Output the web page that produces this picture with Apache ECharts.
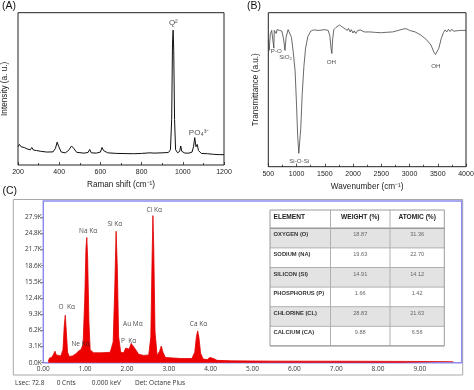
<!DOCTYPE html>
<html><head><meta charset="utf-8">
<script src="https://cdn.jsdelivr.net/npm/echarts@6/dist/echarts.min.js"></script>
<style>html,body{margin:0;padding:0;background:#fff}#c{width:474px;height:390px}</style>
</head><body><div id="c"></div>
<script>
// ---------- Panel A: Raman ----------
const ramanShift = [200,207,215,230,245,260,267,275,290,297,310,340,370,382,390,398,410,430,445,460,470,485,520,540,548,556,580,600,608,615,622,635,680,720,760,800,840,860,900,930,940,946,950,953,956,960,965,975,985,990,995,1010,1030,1045,1052,1058,1064,1070,1076,1090,1120,1150,1180,1200];
const ramanIntensity = [12.0,13.5,12.0,11.5,10.5,10.0,11.5,9.8,9.5,10.5,9.0,8.5,8.6,11.0,15.0,12.0,8.5,8.0,9.5,12.5,11.0,8.3,7.8,8.2,10.2,8.0,7.8,8.5,11.5,9.5,10.2,8.0,7.6,7.5,7.4,7.6,8.0,7.8,8.0,8.2,10,30,80,88.5,75,30,10,8.0,9.0,12.5,9.0,7.8,7.8,8.5,12,18.0,12,13.5,9.5,7.6,7.4,7.0,6.8,6.8];
const ramanLabelText = ['Q²','PO₄³⁻'];
const ramanLabelX = [954,1079];
const ramanLabelY = [93.4,21.2];

// ---------- Panel B: FTIR ----------
const ftirWavenumber = [500,515,535,560,585,598,606,625,640,655,700,740,770,795,815,850,880,910,940,975,1000,1020,1040,1055,1075,1100,1130,1160,1200,1250,1300,1400,1500,1560,1590,1610,1625,1640,1660,1700,1760,1800,1830,1860,1880,1900,1920,1950,1970,2000,2020,2050,2080,2100,2130,2150,2200,2300,2400,2500,2600,2700,2800,2900,2950,3000,3100,3200,3300,3380,3430,3460,3490,3520,3560,3600,3630,3660,3690,3720,3750,3780,3800,3850,3900,4000];
const ftirTransmittance = [82,75.5,86,88.5,88.5,77,88.5,89,86.5,89,88.5,88,83,75.5,84,89.0,88.5,84,75,62,40,20,8.7,9,25,47,65,77,84.5,88,88.8,88.5,89,88.5,85,77,73.5,83,89,90.5,92,91,90.5,89.5,90.5,88.5,89.8,87.5,89,86.8,88.2,86.5,88.4,87.2,88.8,88.0,87.5,87.5,87.2,87,87.3,87.5,88.5,89.5,89.5,88.5,87.5,85.5,82.5,79,74.5,72.8,73.5,77,83,87,88.8,87.5,89.2,87.8,89.3,88.0,88.8,88.3,88.5,88.5];
const ftirLabelText = ['P-O','SiO₂','OH','OH','Si-O-Si'];
const ftirLabelX = [642,805,1615,3466,1047];
const ftirLabelY = [75,71.3,68,65.2,3.3];

// ---------- Panel C: EDS ----------
const edsEnergy = [0.12,0.15,0.20,0.25,0.28,0.31,0.35,0.42,0.47,0.50,0.525,0.55,0.58,0.62,0.70,0.78,0.85,0.90,0.95,0.99,1.02,1.04,1.06,1.09,1.12,1.20,1.40,1.60,1.67,1.71,1.74,1.77,1.80,1.85,1.92,1.97,2.01,2.05,2.10,2.14,2.20,2.28,2.40,2.52,2.57,2.60,2.62,2.64,2.67,2.72,2.78,2.82,2.86,2.92,3.10,3.30,3.55,3.62,3.66,3.69,3.72,3.76,3.82,3.92,3.98,4.02,4.07,4.15,4.50,5.50,7.00,8.50,9.80];
const edsCountsK = [0.3,0.9,1.0,1.7,2.2,1.5,1.2,1.3,2.5,7.0,9.1,6.0,2.0,1.2,1.3,1.7,2.3,2.5,3.5,12,22,24.0,20,8,2.5,1.9,1.9,2.0,4,15,25.2,18,5,2.0,1.9,2.8,3.0,2.6,3.7,3.8,2.6,1.6,1.4,1.5,5,20,28.2,22,6,1.4,2.2,3.2,2.0,1.0,0.9,0.8,0.8,2.0,5.0,6.1,4.8,1.8,0.7,0.6,1.0,1.15,0.8,0.45,0.35,0.3,0.28,0.25,0.2];
const edsLabelText = ['O  Kα','Ne Kα','Na Kα','Si Kα','Cl Kα','Au Mα','P  Kα','Ca Kα'];
const edsLabelX = [0.56,0.89,1.07,1.71,2.65,2.14,2.04,3.71];
const edsLabelY = [10.7,3.5,25.3,26.5,29.3,7.35,4.2,7.35];
const edsStatus = ['Lsec: 72.8','0 Cnts','0.000 keV','Det: Octane Plus'];

// ---------- Table ----------
const tableHeader = ['ELEMENT','WEIGHT (%)','ATOMIC (%)'];
const tableElements = ['OXYGEN (O)','SODIUM (NA)','SILICON (SI)','PHOSPHORUS (P)','CHLORINE (CL)','CALCIUM (CA)'];
const tableWeight = ['18.87','19.63','14.91','1.66','28.83','9.88'];
const tableAtomic = ['31.36','22.70','14.12','1.42','21.63','6.56'];

const zip = (a,b) => a.map((v,i)=>[v,b[i]]);
const zip3 = (a,b,c) => a.map((v,i)=>[v,b[i],c[i]]);

const SANS = 'Liberation Sans';
const EDSF = 'Open Sans';

function sciX(idx, min, max, interval, name, gap){
  return {gridIndex: idx, type:'value', min, max, interval,
    axisLine:{show:false}, splitLine:{show:false},
    axisTick:{show:true, inside:true, length:3, lineStyle:{color:'#222', width:0.8}},
    minorTick:{show:true, splitNumber:2, length:2, lineStyle:{color:'#222', width:0.8}},
    axisLabel:{fontSize:7, color:'#222', fontFamily:SANS, margin:4, formatter:v=>String(v)},
    name, nameLocation:'middle', nameGap:gap,
    nameTextStyle:{fontSize:8.2, color:'#222', fontFamily:SANS}};
}
function sciY(idx, name, gap){
  return {gridIndex: idx, type:'value', min:0, max:100,
    axisLine:{show:false}, axisTick:{show:false}, axisLabel:{show:false}, splitLine:{show:false},
    name, nameLocation:'middle', nameGap:gap, nameRotate:90,
    nameTextStyle:{fontSize:8.2, color:'#222', fontFamily:SANS}};
}
function labelSeries(xi, data, font, size){
  return {type:'scatter', xAxisIndex:xi, yAxisIndex:xi, data, symbolSize:1,
    itemStyle:{color:'rgba(0,0,0,0)'}, silent:true, z:5,
    label:{show:true, position:'inside', formatter:p=>p.data[2], fontSize:size, color:'#222', fontFamily:font}};
}

// table layout
const T = {cols:[270,330.5,390,444.3], top:210, headH:18.3, rowH:19.6};
const tableGfx = [];
const tW = T.cols[3]-T.cols[0];
const bodyTop = T.top + T.headH;
tableGfx.push({type:'rect', shape:{x:T.cols[0], y:T.top, width:tW, height:T.headH}, style:{fill:'#fff'}});
tableElements.forEach((el,i)=>{
  const y = bodyTop + i*T.rowH;
  tableGfx.push({type:'rect', shape:{x:T.cols[0], y, width:tW, height:T.rowH}, style:{fill: i%2===0 ? '#e3e3e3' : '#ffffff'}});
});
for (let i=1;i<=tableElements.length;i++){
  const y = bodyTop + i*T.rowH;
  tableGfx.push({type:'line', shape:{x1:T.cols[0], y1:y, x2:T.cols[3], y2:y}, style:{stroke:'#b0b0b0', lineWidth:1}});
}
tableGfx.push({type:'line', shape:{x1:T.cols[0], y1:bodyTop, x2:T.cols[3], y2:bodyTop}, style:{stroke:'#9a9a9a', lineWidth:1.6}});
[1,2].forEach(c=>tableGfx.push({type:'line', shape:{x1:T.cols[c], y1:T.top, x2:T.cols[c], y2:bodyTop+tableElements.length*T.rowH}, style:{stroke:'#b0b0b0', lineWidth:1}}));
tableGfx.push({type:'rect', shape:{x:T.cols[0], y:T.top, width:tW, height:T.headH+tableElements.length*T.rowH}, style:{fill:null, stroke:'#9a9a9a', lineWidth:1}});
const cx1 = (T.cols[1]+T.cols[2])/2, cx2 = (T.cols[2]+T.cols[3])/2;
tableGfx.push({type:'text', x:T.cols[0]+3.5, y:T.top+6.7, style:{text:tableHeader[0], fontSize:6.6, fontWeight:'bold', fill:'#222', fontFamily:SANS, verticalAlign:'middle'}});
tableGfx.push({type:'text', x:cx1, y:T.top+6.7, style:{text:tableHeader[1], fontSize:6.6, fontWeight:'bold', fill:'#222', fontFamily:SANS, align:'center', verticalAlign:'middle'}});
tableGfx.push({type:'text', x:cx2, y:T.top+6.7, style:{text:tableHeader[2], fontSize:6.6, fontWeight:'bold', fill:'#222', fontFamily:SANS, align:'center', verticalAlign:'middle'}});
tableElements.forEach((el,i)=>{
  const y = bodyTop + i*T.rowH + 6.5;
  tableGfx.push({type:'text', x:T.cols[0]+3.5, y, style:{text:el, fontSize:5.8, fontWeight:'bold', fill:'#333', fontFamily:SANS, verticalAlign:'middle'}});
  tableGfx.push({type:'text', x:cx1, y, style:{text:tableWeight[i], fontSize:5.6, fill:'#666', fontFamily:SANS, align:'center', verticalAlign:'middle'}});
  tableGfx.push({type:'text', x:cx2, y, style:{text:tableAtomic[i], fontSize:5.6, fill:'#666', fontFamily:SANS, align:'center', verticalAlign:'middle'}});
});

const statusX = [15,56.7,91.7,135];
const statusGfx = edsStatus.map((s,i)=>({type:'text', x:statusX[i], y:383.3, style:{text:s, fontSize:6.5, fill:'#333', fontFamily:EDSF, verticalAlign:'middle'}}));

const chart = echarts.init(document.getElementById('c'), null, {renderer:'canvas'});
chart.setOption({
  animation:false,
  backgroundColor:'#fff',
  textStyle:{fontFamily:SANS},
  grid:[
    {left:18, top:12.7, width:206, height:152.3, show:true, borderColor:'#222', borderWidth:1, backgroundColor:'transparent', outerBoundsMode:'none'},
    {left:268.3, top:12.7, width:197.7, height:154, show:true, borderColor:'#222', borderWidth:1, backgroundColor:'transparent', outerBoundsMode:'none'},
    {left:43.3, top:201, width:418.4, height:161.7, show:true, borderColor:'#8c8cf0', borderWidth:1.5, backgroundColor:'transparent', outerBoundsMode:'none'}
  ],
  xAxis:[
    sciX(0,200,1200,200,'Raman shift (cm⁻¹)',15.5),
    sciX(1,500,4000,500,'Wavenumber (cm⁻¹)',16),
    {gridIndex:2, type:'value', min:0, max:10, interval:1,
      axisLine:{show:false}, axisTick:{show:false}, splitLine:{show:false},
      axisLabel:{fontSize:6.5, color:'#333', fontFamily:EDSF, margin:3, showMaxLabel:false, formatter:v=>v.toFixed(2)}}
  ],
  yAxis:[
    sciY(0,'Intensity (a. u.)',9),
    sciY(1,'Transmittance (a.u.)',9),
    {gridIndex:2, type:'value', min:0, max:31, interval:3.1,
      axisLine:{show:false}, splitLine:{show:false},
      axisTick:{show:true, length:2, lineStyle:{color:'#777'}},
      axisLabel:{fontSize:6.5, color:'#333', fontFamily:EDSF, margin:1.5, showMaxLabel:false, padding:[6,0,0,0], formatter:v=>v.toFixed(1)+'K'}}
  ],
  series:[
    {type:'line', xAxisIndex:0, yAxisIndex:0, data:zip(ramanShift,ramanIntensity), showSymbol:false, lineStyle:{color:'#111', width:1}, silent:true},
    labelSeries(0, zip3(ramanLabelX,ramanLabelY,ramanLabelText), SANS, 8),
    {type:'line', xAxisIndex:1, yAxisIndex:1, data:zip(ftirWavenumber,ftirTransmittance), showSymbol:false, lineStyle:{color:'#444', width:0.8}, silent:true},
    labelSeries(1, zip3(ftirLabelX,ftirLabelY,ftirLabelText), SANS, 6.2),
    {type:'line', xAxisIndex:2, yAxisIndex:2, data:zip(edsEnergy,edsCountsK), showSymbol:false, lineStyle:{color:'#e00000', width:0.8}, areaStyle:{color:'#ee0000', opacity:1}, silent:true},
    labelSeries(2, zip3(edsLabelX,edsLabelY,edsLabelText), EDSF, 6.5)
  ],
  graphic:[
    {type:'text', x:2, y:6, z:10, style:{text:'(A)', fontSize:10.5, fill:'#111', fontFamily:SANS, verticalAlign:'middle'}},
    {type:'text', x:247, y:6.5, z:10, style:{text:'(B)', fontSize:10.5, fill:'#111', fontFamily:SANS, verticalAlign:'middle'}},
    {type:'text', x:2.5, y:191.5, z:10, style:{text:'(C)', fontSize:10.5, fill:'#111', fontFamily:SANS, verticalAlign:'middle'}},
    {type:'rect', z:-1, shape:{x:13.3, y:199.5, width:449.4, height:175.5}, style:{fill:null, stroke:'#a8a8a8', lineWidth:1}},
    {type:'group', z:50, children:tableGfx},
    {type:'group', z:10, children:statusGfx}
  ]
});
</script></body></html>
